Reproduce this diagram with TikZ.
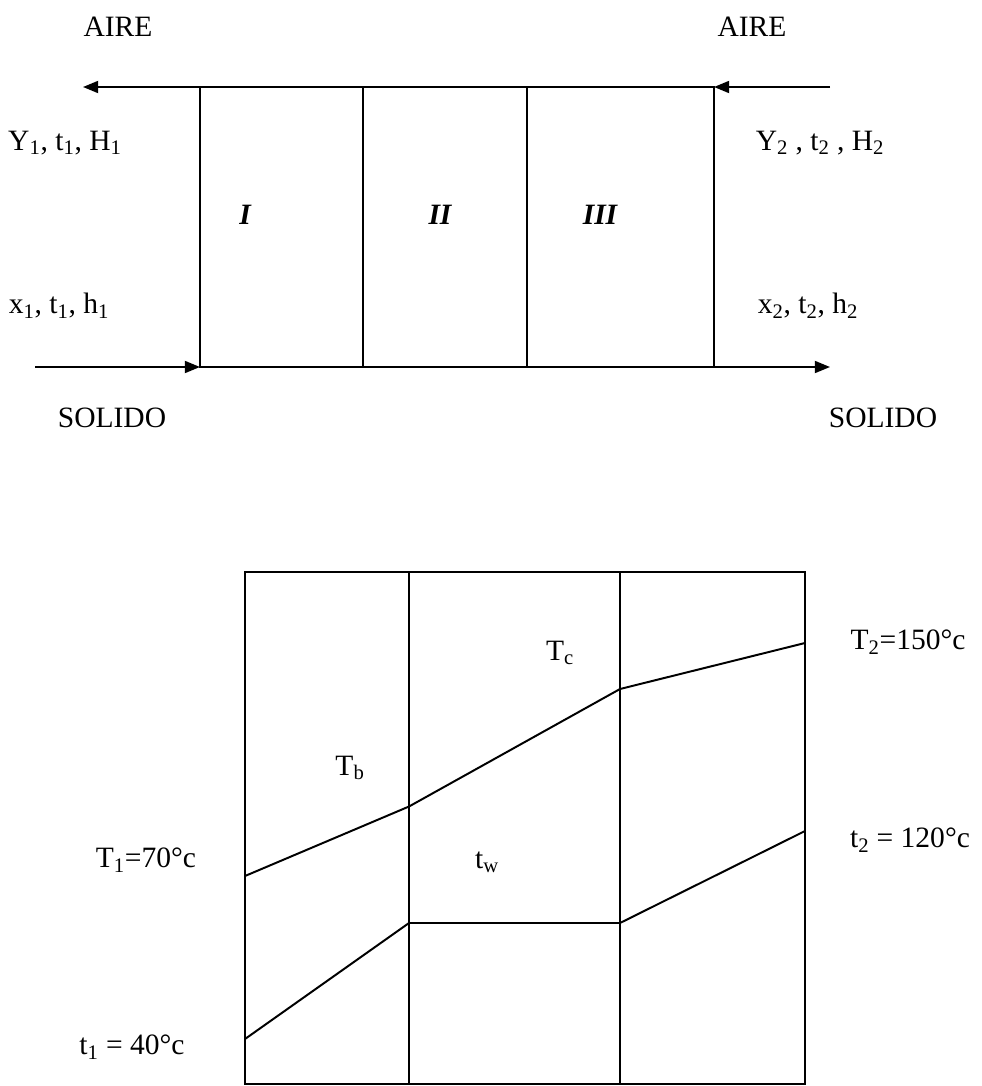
\documentclass[tikz,border=0pt]{standalone}
\usepackage{fontspec}
\setmainfont{Liberation Serif}
\usetikzlibrary{arrows.meta}

\begin{document}
\begin{tikzpicture}[x=0.025cm, y=-0.025cm,
		linea/.style={color=black, line width=1.4pt},
		flecha/.style={linea, -{Triangle[length=0.38cm, width=0.3cm]}}]
		\tikzstyle{every node}=[font=\fontsize{21pt}{25pt}\selectfont]
		\useasboundingbox (0,0) rectangle (981,1086);
		
		% secador en tres zonas
		\coordinate (e1) at (200,87);
		\coordinate (e2) at (714,87);
		\coordinate (e3) at (714,367);
		\coordinate (e4) at (200,367);
		\coordinate (z1a) at (363,87);
		\coordinate (z1b) at (363,367);
		\coordinate (z2a) at (527,87);
		\coordinate (z2b) at (527,367);
		\coordinate (aireIn) at (830,87);
		\coordinate (aireOut) at (83,87);
		\coordinate (solIn) at (35,367);
		\coordinate (solOut) at (830,367);
		
		\draw[linea] (e1) rectangle (e3);
		\draw[linea] (z1a) -- (z1b);
		\draw[linea] (z2a) -- (z2b);
		\draw[flecha] (aireIn) -- (e2);
		\draw[flecha] (e2) -- (aireOut);
		\draw[flecha] (solIn) -- (e4);
		\draw[flecha] (e4) -- (solOut);
		
		\node (aire1) at (118,27) {AIRE};
		\node (aire2) at (752,27) {AIRE};
		\node (gas1) at (65,143) {Y\textsubscript{1}, t\textsubscript{1}, H\textsubscript{1}};
		\node (gas2) at (820,143) {Y\textsubscript{2} , t\textsubscript{2} , H\textsubscript{2}};
		\node (zonaI) at (245,215) {\bfseries\itshape I};
		\node (zonaII) at (440,215) {\bfseries\itshape II};
		\node (zonaIII) at (600,215) {\bfseries\itshape III};
		\node (sol1) at (59,306) {x\textsubscript{1}, t\textsubscript{1}, h\textsubscript{1}};
		\node (sol2) at (808,306) {x\textsubscript{2}, t\textsubscript{2}, h\textsubscript{2}};
		\node (solido1) at (112,418) {SOLIDO};
		\node (solido2) at (883,418) {SOLIDO};
		
		% perfil de temperaturas
		\coordinate (p1) at (245,572);
		\coordinate (p3) at (805,1084);
		\coordinate (q1a) at (409,572);
		\coordinate (q1b) at (409,1084);
		\coordinate (q2a) at (620,572);
		\coordinate (q2b) at (620,1084);
		\coordinate (Ta) at (245,876);
		\coordinate (Tb) at (409,806.5);
		\coordinate (Tc) at (620,689);
		\coordinate (Td) at (805,643);
		\coordinate (ta) at (245,1039);
		\coordinate (tb) at (409,923);
		\coordinate (tc) at (620,923);
		\coordinate (td) at (805,831);
		
		\draw[linea] (p1) rectangle (p3);
		\draw[linea] (q1a) -- (q1b);
		\draw[linea] (q2a) -- (q2b);
		\draw[linea] (Ta) -- (Tb) -- (Tc) -- (Td);
		\draw[linea] (ta) -- (tb) -- (tc) -- (td);
		
		\node (labTc) at (560,653) {T\textsubscript{c}};
		\node (labTb) at (350,768) {T\textsubscript{b}};
		\node (labtw) at (487,862) {t\textsubscript{w}};
		\node (labT2) at (908,642) {T\textsubscript{2}=150°c};
		\node (labt2) at (910,840) {t\textsubscript{2} = 120°c};
		\node (labT1) at (146,860) {T\textsubscript{1}=70°c};
		\node (labt1) at (132,1047) {t\textsubscript{1} = 40°c};
		
	\end{tikzpicture}
\end{document}
